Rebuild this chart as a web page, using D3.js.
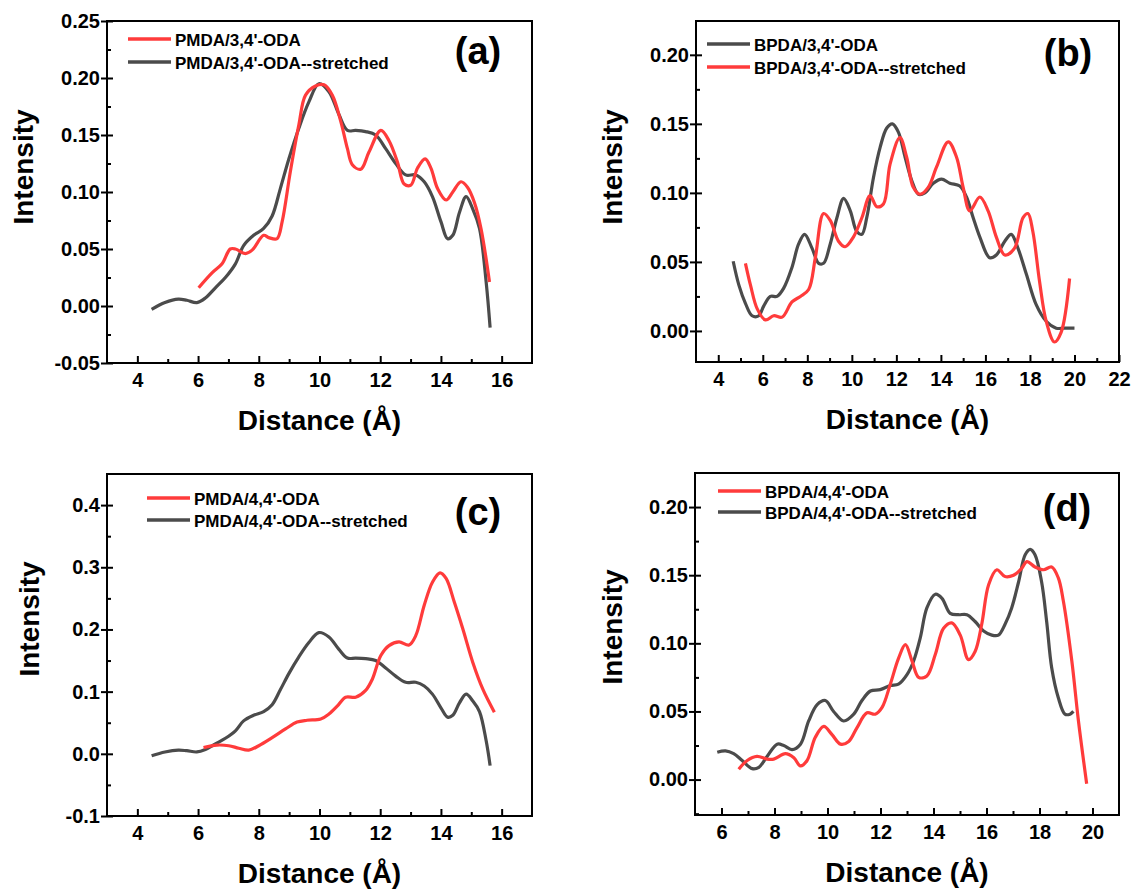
<!DOCTYPE html>
<html>
<head>
<meta charset="utf-8">
<script src="https://cdn.jsdelivr.net/npm/d3@7"></script>
<style>
body { margin: 0; background: #fff; }
text { font-family: "Liberation Sans", Arial, sans-serif; font-weight: bold; fill: #000; }
</style>
</head>
<body>
<div id="chart"></div>
<script>
var red = '#ff3b3b'
var gray = '#4b4b4b'

// (a) PMDA/3,4'-ODA  [distance, intensity]
var pmda34 = [[6.02,0.016],[6.46,0.029],[6.79,0.037],[7.06,0.05],[7.23,0.05],[7.56,0.046],[7.78,0.049],[8.16,0.062],[8.33,0.06],[8.6,0.059],[8.77,0.074],[9.04,0.118],[9.32,0.159],[9.54,0.185],[9.87,0.193],[10.15,0.194],[10.42,0.185],[10.7,0.162],[10.92,0.138],[11.08,0.124],[11.36,0.12],[11.63,0.135],[12.02,0.154],[12.29,0.145],[12.57,0.126],[12.79,0.107],[13.01,0.106],[13.23,0.121],[13.48,0.129],[13.67,0.121],[13.89,0.103],[14.17,0.093],[14.39,0.1],[14.66,0.109],[14.88,0.104],[15.1,0.091],[15.32,0.068],[15.6,0.021]]
var pmda34Stretched = [[4.47,-0.003],[4.91,0.003],[5.35,0.006],[5.63,0.005],[5.96,0.003],[6.24,0.007],[6.57,0.016],[6.9,0.025],[7.23,0.037],[7.5,0.053],[7.83,0.062],[8.16,0.068],[8.44,0.079],[8.71,0.103],[8.99,0.129],[9.32,0.156],[9.65,0.179],[9.98,0.195],[10.31,0.188],[10.64,0.168],[10.92,0.154],[11.19,0.154],[11.52,0.153],[11.85,0.15],[12.18,0.138],[12.51,0.125],[12.84,0.115],[13.17,0.115],[13.45,0.109],[13.72,0.096],[14.0,0.074],[14.22,0.059],[14.39,0.062],[14.61,0.082],[14.83,0.096],[15.05,0.085],[15.27,0.068],[15.49,0.021],[15.62,-0.019]]

// (b) BPDA/3,4'-ODA
var bpda34 = [[4.67,0.0505],[4.93,0.033],[5.22,0.02],[5.52,0.011],[5.82,0.011],[6.04,0.018],[6.34,0.025],[6.64,0.025],[6.94,0.031],[7.31,0.046],[7.61,0.063],[7.88,0.07],[8.21,0.06],[8.51,0.049],[8.73,0.049],[9.03,0.063],[9.33,0.082],[9.63,0.096],[9.93,0.087],[10.22,0.072],[10.45,0.07],[10.67,0.082],[10.97,0.111],[11.27,0.133],[11.57,0.147],[11.82,0.15],[12.09,0.144],[12.39,0.126],[12.69,0.109],[12.99,0.099],[13.28,0.1],[13.66,0.107],[14.03,0.11],[14.4,0.107],[14.85,0.105],[15.15,0.097],[15.45,0.082],[15.75,0.068],[16.19,0.053],[16.49,0.055],[16.87,0.065],[17.16,0.07],[17.46,0.06],[17.84,0.041],[18.28,0.019],[18.73,0.007],[19.18,0.002],[19.55,0.002],[20.0,0.002]]
var bpda34Stretched = [[5.22,0.049],[5.45,0.033],[5.75,0.016],[6.12,0.008],[6.49,0.011],[6.87,0.01],[7.31,0.021],[7.69,0.025],[8.06,0.03],[8.36,0.053],[8.73,0.085],[9.03,0.08],[9.4,0.065],[9.7,0.061],[10.07,0.068],[10.45,0.082],[10.82,0.098],[11.12,0.09],[11.42,0.092],[11.72,0.121],[12.16,0.14],[12.46,0.126],[12.76,0.104],[13.06,0.099],[13.43,0.104],[13.81,0.119],[14.33,0.137],[14.7,0.126],[15.0,0.104],[15.3,0.087],[15.75,0.097],[16.12,0.087],[16.49,0.068],[16.87,0.055],[17.31,0.06],[17.69,0.082],[17.91,0.085],[18.13,0.072],[18.43,0.036],[18.73,0.007],[19.1,-0.008],[19.4,-0.001],[19.78,0.038]]

// (c) PMDA/4,4'-ODA
var pmda44 = [[6.18,0.01],[6.62,0.014],[7.01,0.013],[7.34,0.009],[7.67,0.006],[8.0,0.013],[8.44,0.026],[8.88,0.04],[9.26,0.051],[9.59,0.054],[10.04,0.056],[10.31,0.064],[10.59,0.077],[10.86,0.091],[11.19,0.091],[11.52,0.102],[11.74,0.12],[12.02,0.158],[12.29,0.174],[12.62,0.18],[12.95,0.175],[13.17,0.19],[13.45,0.239],[13.72,0.276],[13.97,0.291],[14.17,0.282],[14.44,0.244],[14.72,0.201],[15.05,0.147],[15.38,0.104],[15.76,0.067]]
var pmda44Stretched = pmda34Stretched

// (d) BPDA/4,4'-ODA
var bpda44 = [[6.65,0.0076],[6.97,0.014],[7.34,0.017],[7.72,0.015],[7.97,0.015],[8.41,0.019],[8.73,0.016],[8.98,0.01],[9.23,0.014],[9.54,0.031],[9.86,0.039],[10.17,0.033],[10.49,0.026],[10.8,0.028],[11.11,0.038],[11.49,0.049],[11.8,0.048],[12.06,0.053],[12.37,0.07],[12.68,0.089],[12.94,0.099],[13.19,0.087],[13.44,0.075],[13.75,0.076],[14.07,0.092],[14.38,0.111],[14.69,0.115],[15.01,0.106],[15.32,0.088],[15.57,0.094],[15.82,0.114],[16.08,0.143],[16.39,0.154],[16.7,0.149],[17.02,0.15],[17.33,0.155],[17.52,0.16],[17.83,0.156],[18.15,0.154],[18.46,0.156],[18.71,0.148],[18.9,0.131],[19.22,0.087],[19.47,0.043],[19.78,-0.003]]
var bpda44Stretched = [[5.84,0.02],[6.15,0.021],[6.46,0.019],[6.78,0.014],[7.16,0.008],[7.41,0.009],[7.72,0.017],[8.1,0.026],[8.35,0.025],[8.66,0.022],[8.98,0.026],[9.29,0.043],[9.61,0.055],[9.92,0.058],[10.23,0.05],[10.61,0.043],[10.99,0.048],[11.3,0.058],[11.62,0.065],[11.99,0.066],[12.37,0.069],[12.68,0.07],[13.0,0.077],[13.25,0.087],[13.5,0.104],[13.75,0.126],[14.07,0.136],[14.32,0.133],[14.63,0.122],[14.94,0.121],[15.26,0.121],[15.57,0.116],[15.89,0.109],[16.2,0.106],[16.45,0.106],[16.7,0.114],[16.95,0.126],[17.21,0.145],[17.46,0.165],[17.65,0.169],[17.83,0.165],[18.08,0.145],[18.27,0.116],[18.46,0.082],[18.71,0.06],[18.96,0.048],[19.15,0.048],[19.28,0.05]]

// tick values
var xTicksA = [4, 6, 8, 10, 12, 14, 16]
var xTicksB = [4, 6, 8, 10, 12, 14, 16, 18, 20, 22]
var xTicksD = [6, 8, 10, 12, 14, 16, 18, 20]
var yTicksA = [-0.05, 0, 0.05, 0.1, 0.15, 0.2, 0.25]
var yTicksB = [0, 0.05, 0.1, 0.15, 0.2]
var yTicksC = [-0.1, 0, 0.1, 0.2, 0.3, 0.4]

var panels = [
  { left: 107, right: 532, top: 21, bottom: 363, xDom: [3, 17], yDom: [-0.05, 0.25],
    xTicks: xTicksA, yTicks: yTicksA, dec: 2, label: '(a)', labelX: 478, labelY: 64,
    series: [
      { name: "PMDA/3,4'-ODA", data: pmda34, color: red },
      { name: "PMDA/3,4'-ODA--stretched", data: pmda34Stretched, color: gray }
    ],
    legX: 128, legY: [39, 62], yTitleX: 23, yTitleY: 167 },
  { left: 696, right: 1119, top: 21, bottom: 362, xDom: [3, 22], yDom: [-0.0225, 0.2245],
    xTicks: xTicksB, yTicks: yTicksB, dec: 2, label: '(b)', labelX: 1068, labelY: 66,
    series: [
      { name: "BPDA/3,4'-ODA", data: bpda34, color: gray },
      { name: "BPDA/3,4'-ODA--stretched", data: bpda34Stretched, color: red }
    ],
    legX: 707, legY: [44, 67], yTitleX: 612, yTitleY: 167 },
  { left: 107, right: 532, top: 474, bottom: 816, xDom: [3, 17], yDom: [-0.1, 0.45],
    xTicks: xTicksA, yTicks: yTicksC, dec: 1, label: '(c)', labelX: 478, labelY: 525,
    series: [
      { name: "PMDA/4,4'-ODA", data: pmda44, color: red },
      { name: "PMDA/4,4'-ODA--stretched", data: pmda44Stretched, color: gray }
    ],
    legX: 147, legY: [498, 520], yTitleX: 29, yTitleY: 619 },
  { left: 695, right: 1119, top: 473, bottom: 815, xDom: [5, 21], yDom: [-0.026, 0.225],
    xTicks: xTicksD, yTicks: yTicksB, dec: 2, label: '(d)', labelX: 1067, labelY: 521,
    series: [
      { name: "BPDA/4,4'-ODA", data: bpda44, color: red },
      { name: "BPDA/4,4'-ODA--stretched", data: bpda44Stretched, color: gray }
    ],
    legX: 718, legY: [491, 512], yTitleX: 612, yTitleY: 627 }
]

var svg = d3.select("#chart")
  .append("svg")
  .attr("width", 1136)
  .attr("height", 889)

panels.forEach(function(p) {
  var w = p.right - p.left
  var h = p.bottom - p.top
  var x = d3.scaleLinear().domain(p.xDom).range([0, w])
  var y = d3.scaleLinear().domain(p.yDom).range([h, 0])

  var g = svg.append("g").attr("transform", "translate(" + p.left + "," + p.top + ")")

  // minor ticks halfway between majors
  var xStep = p.xTicks[1] - p.xTicks[0]
  var yStep = p.yTicks[1] - p.yTicks[0]
  var xMinor = p.xTicks.map(function(v) { return v - xStep / 2 }).concat([p.xTicks[p.xTicks.length - 1] + xStep / 2])
    .filter(function(v) { return v > p.xDom[0] && v < p.xDom[1] })
  var yMinor = p.yTicks.map(function(v) { return v - yStep / 2 }).concat([p.yTicks[p.yTicks.length - 1] + yStep / 2])
    .filter(function(v) { return v > p.yDom[0] && v < p.yDom[1] })

  var fmt = function(d) { return d3.format("." + p.dec + "f")(d).replace("\u2212", "-") }

  // x axis: ticks inward
  g.append("g").attr("transform", "translate(0," + h + ")")
    .call(d3.axisBottom(x).tickValues(p.xTicks).tickSize(-7).tickPadding(10).tickFormat(function(d) { return d }))
    .call(function(a) { a.select(".domain").remove() })
    .selectAll("text").style("font-size", "20px").style("font-family", "Liberation Sans, Arial").style("font-weight", "bold")
  g.append("g").attr("transform", "translate(0," + h + ")")
    .call(d3.axisBottom(x).tickValues(xMinor).tickSize(-4).tickFormat(""))
    .call(function(a) { a.select(".domain").remove() })

  // y axis: majors cross the frame, minors inward
  g.append("g")
    .call(d3.axisLeft(y).tickValues(p.yTicks).tickSize(6).tickPadding(1).tickFormat(fmt))
    .call(function(a) { a.select(".domain").remove() })
    .selectAll("text").style("font-size", "20px").style("font-family", "Liberation Sans, Arial").style("font-weight", "bold")
  g.append("g")
    .call(d3.axisLeft(y).tickValues(p.yTicks).tickSize(-6).tickFormat(""))
    .call(function(a) { a.select(".domain").remove() })
  g.append("g")
    .call(d3.axisLeft(y).tickValues(yMinor).tickSize(-4).tickFormat(""))
    .call(function(a) { a.select(".domain").remove() })

  g.selectAll(".tick line").attr("stroke", "#000").attr("stroke-width", 2)

  var line = d3.line()
    .x(function(d) { return x(d[0]) })
    .y(function(d) { return y(d[1]) })
    .curve(d3.curveCatmullRom.alpha(0.5))

  // gray first so red sits on top
  var order = p.series.slice().sort(function(a, b) { return (a.color === red) - (b.color === red) })
  g.selectAll("path.curve")
    .data(order)
    .enter()
    .append("path")
    .attr("class", "curve")
    .attr("d", function(s) { return line(s.data) })
    .attr("fill", "none")
    .attr("stroke", function(s) { return s.color })
    .attr("stroke-width", 3.2)
    .attr("stroke-linejoin", "round")

  g.append("rect")
    .attr("width", w).attr("height", h)
    .attr("fill", "none").attr("stroke", "#000").attr("stroke-width", 2)

  // legend
  p.series.forEach(function(s, i) {
    svg.append("line")
      .attr("x1", p.legX).attr("x2", p.legX + 43)
      .attr("y1", p.legY[i]).attr("y2", p.legY[i])
      .attr("stroke", s.color).attr("stroke-width", 3.5)
    svg.append("text")
      .attr("x", p.legX + 47).attr("y", p.legY[i] + 6.5)
      .style("font-size", "17px")
      .text(s.name)
  })

  svg.append("text")
    .attr("x", p.labelX).attr("y", p.labelY)
    .attr("text-anchor", "middle")
    .style("font-size", "38px")
    .text(p.label)

  svg.append("text")
    .attr("transform", "translate(" + p.yTitleX + "," + p.yTitleY + ") rotate(-90)")
    .attr("text-anchor", "middle")
    .attr("dy", "0.35em")
    .style("font-size", "28px")
    .text("Intensity")

  svg.append("text")
    .attr("x", (p.left + p.right) / 2)
    .attr("y", p.bottom + 67)
    .attr("text-anchor", "middle")
    .style("font-size", "28px")
    .text("Distance (\u00c5)")
})
</script>
</body>
</html>
